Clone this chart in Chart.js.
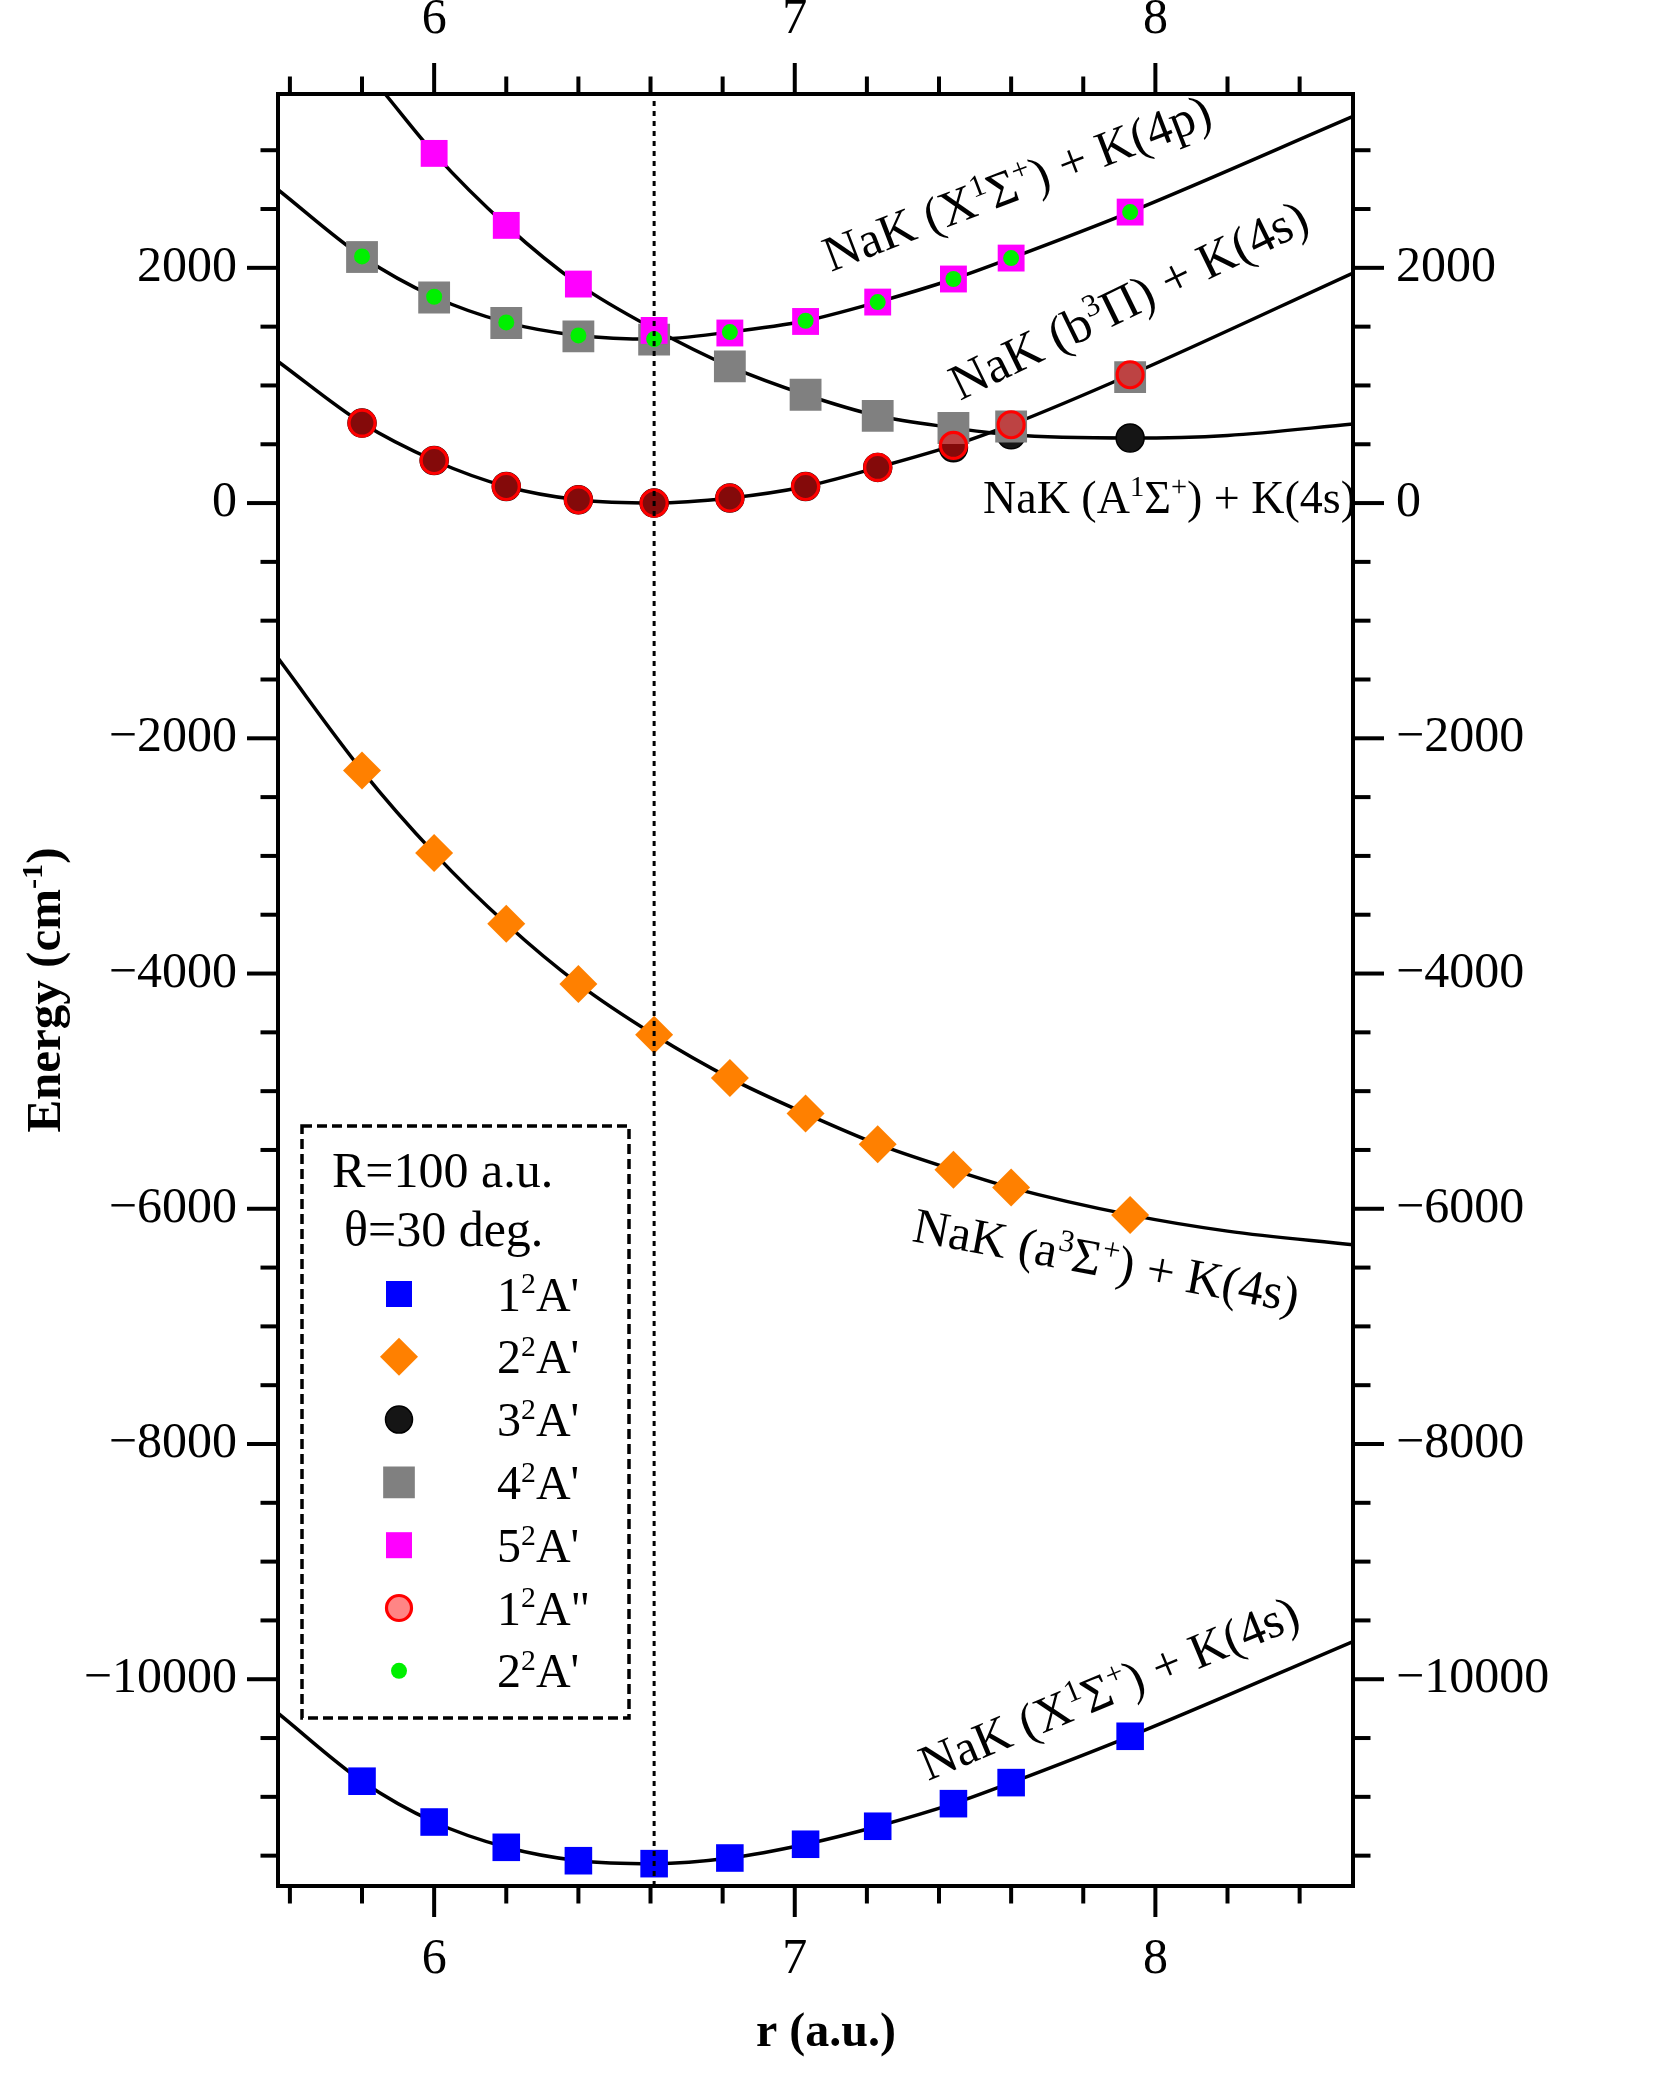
<!DOCTYPE html>
<html>
<head>
<meta charset="utf-8">
<script src="https://cdn.jsdelivr.net/npm/chart.js@4.4.1/dist/chart.umd.min.js"></script>
<style>
  html, body { margin: 0; padding: 0; background: #fff; }
  canvas { display: block; }
</style>
</head>
<body>
<canvas id="energyChart" width="1654" height="2075" style="width:1654px;height:2075px"></canvas>
<script>
// r grid of the ab initio points (a.u.)
const rPoints = [5.8, 6.0, 6.2, 6.4, 6.61, 6.82, 7.03, 7.23, 7.44, 7.6, 7.93];
const rUpper = [6.0, 6.2, 6.4, 6.61, 6.82, 7.03, 7.23, 7.44, 7.6, 7.93];

// adiabatic energies (cm-1)
const e1A1 = [-10867, -11214, -11429, -11543, -11568, -11520, -11403, -11250, -11058, -10879, -10485];
const e2A1 = [-2274, -2976, -3577, -4088, -4521, -4889, -5190, -5451, -5669, -5820, -6052];
const e3A1 = [680, 362, 141, 28, 0, 43, 141, 303, 470, 580, 553];
const e4A1 = [2092, 1748, 1531, 1417, 1389, 1162, 921, 742, 638, 651, 1071];
const e5A1 = [2973, 2361, 1862, 1468, 1446, 1544, 1709, 1905, 2083, 2474];
const e1A2 = [680, 362, 141, 28, 0, 43, 141, 303, 490, 666, 1091];
const e2A1b = [2097, 1754, 1536, 1425, 1394, 1454, 1550, 1709, 1905, 2083, 2474];

// diabatic curves
const rCurveX4p = [5.567, 5.8, 6.0, 6.2, 6.4, 6.61, 6.82, 7.03, 7.23, 7.44, 7.6, 7.93, 8.548];
const eCurveX4p = [2664, 2097, 1754, 1536, 1425, 1394, 1454, 1550, 1709, 1905, 2083, 2474, 3287];
const rCurveA4s = [5.864, 6.0, 6.2, 6.4, 6.61, 6.82, 7.03, 7.23, 7.44, 7.6, 7.93, 8.2, 8.548];
const eCurveA4s = [3478, 2973, 2361, 1862, 1480, 1162, 921, 742, 640, 580, 553, 575, 672];
const rCurveb4s = [5.567, 5.8, 6.0, 6.2, 6.4, 6.61, 6.82, 7.03, 7.23, 7.44, 7.6, 7.93, 8.548];
const eCurveb4s = [1204, 680, 362, 141, 28, 0, 43, 141, 303, 490, 666, 1091, 1956];
const rCurvea4s = [5.567, 5.8, 6.0, 6.2, 6.4, 6.61, 6.82, 7.03, 7.23, 7.44, 7.6, 7.93, 8.2, 8.548];
const eCurvea4s = [-1318, -2274, -2976, -3577, -4088, -4521, -4889, -5190, -5451, -5669, -5820, -6052, -6190, -6307];
const rCurveX4s = [5.567, 5.8, 6.0, 6.2, 6.4, 6.61, 6.82, 7.03, 7.23, 7.44, 7.6, 7.93, 8.548];
const eCurveX4s = [-10289, -10867, -11214, -11429, -11543, -11568, -11520, -11403, -11250, -11058, -10879, -10485, -9680];

const rEquilibrium = 6.61;

// axes
const rMin = 5.567, rMax = 8.548;
const eMin = -11758, eMax = 3478;
const rMajorTicks = [6, 7, 8];
const rMinorTicks = [5.6, 5.8, 6.2, 6.4, 6.6, 6.8, 7.2, 7.4, 7.6, 7.8, 8.2, 8.4];
const eMajorTicks = [2000, 0, -2000, -4000, -6000, -8000, -10000];
const eMinorTicks = [3000, 2500, 1500, 1000, 500, -500, -1000, -1500, -2500, -3000, -3500,
  -4500, -5000, -5500, -6500, -7000, -7500, -8500, -9000, -9500, -10500, -11000, -11500];

const legendNames = [['1', '2', "A'"], ['2', '2', "A'"], ['3', '2', "A'"], ['4', '2', "A'"],
  ['5', '2', "A'"], ['1', '2', 'A"'], ['2', '2', "A'"]];

const SERIF = "'Liberation Serif', 'Times New Roman', serif";

// marker styles: blue, orange, black, gray, magenta, red, green
const markers = [
  { style: 'rect', r: 19.5, bg: '#0000ff', border: '#0000ff', bw: 0 },
  { style: 'rectRot', r: 19, bg: '#ff8000', border: '#ff8000', bw: 0 },
  { style: 'circle', r: 14, bg: '#151515', border: '#000000', bw: 1.5 },
  { style: 'rect', r: 22.5, bg: '#808080', border: '#808080', bw: 0 },
  { style: 'rect', r: 19, bg: '#ff00ff', border: '#ff00ff', bw: 0 },
  { style: 'circle', r: 13, bg: 'rgba(255,0,0,0.48)', border: '#ff0000', bw: 3.2 },
  { style: 'circle', r: 8, bg: '#00f000', border: '#00f000', bw: 0 }
];
const legendMarkers = [
  { style: 'rect', r: 18.4, bg: '#0000ff', border: '#0000ff', bw: 0 },
  { style: 'rectRot', r: 19, bg: '#ff8000', border: '#ff8000', bw: 0 },
  { style: 'circle', r: 13.5, bg: '#151515', border: '#000000', bw: 1.5 },
  { style: 'rect', r: 22.4, bg: '#808080', border: '#808080', bw: 0 },
  { style: 'rect', r: 18.4, bg: '#ff00ff', border: '#ff00ff', bw: 0 },
  { style: 'circle', r: 12.5, bg: 'rgba(255,0,0,0.48)', border: '#ff0000', bw: 3.2 },
  { style: 'circle', r: 8, bg: '#00f000', border: '#00f000', bw: 0 }
];

const pts = (xs, ys) => ys.map((y, i) => ({ x: xs[i], y: y }));

function pointSet(label, xs, ys, m, order) {
  return {
    label: label, data: pts(xs, ys), showLine: false, order: order,
    pointStyle: m.style, pointRadius: m.r, pointHoverRadius: m.r,
    pointBackgroundColor: m.bg, pointBorderColor: m.border, pointBorderWidth: m.bw
  };
}
function curveSet(xs, ys) {
  return {
    data: pts(xs, ys), showLine: true, pointRadius: 0, borderColor: '#000',
    borderWidth: 3.5, cubicInterpolationMode: 'monotone', order: 20
  };
}

// rich text: parts are [text, 'sup' | '']
function drawRich(ctx, parts, x, y, size, angle, bold, center) {
  const f = (s) => (bold ? 'bold ' : '') + s + 'px ' + SERIF;
  ctx.save();
  ctx.translate(x, y);
  ctx.rotate(angle * Math.PI / 180);
  ctx.fillStyle = '#000';
  ctx.textAlign = 'left';
  ctx.textBaseline = 'alphabetic';
  let w = 0;
  for (const [t, k] of parts) { ctx.font = f(k === 'sup' ? size * 0.62 : size); w += ctx.measureText(t).width; }
  let cx = center ? -w / 2 : 0;
  for (const [t, k] of parts) {
    const s = k === 'sup' ? size * 0.62 : size;
    ctx.font = f(s);
    ctx.fillText(t, cx, k === 'sup' ? -size * 0.36 : 0);
    cx += ctx.measureText(t).width;
  }
  ctx.restore();
}

function drawMarker(ctx, m, x, y) {
  ctx.save();
  ctx.fillStyle = m.bg;
  ctx.strokeStyle = m.border;
  ctx.lineWidth = m.bw;
  Chart.helpers.drawPoint(ctx, { pointStyle: m.style, radius: m.r, rotation: 0, borderWidth: m.bw }, x, y);
  ctx.restore();
}

const sigma = (pre, post) => [[pre, ''], ['1', 'sup'], ['Σ', ''], ['+', 'sup'], [post, '']];
const annotations = [
  { parts: sigma('NaK (X', ') + K(4p)'), x: 831, y: 272, angle: -21, size: 50 },
  { parts: [['NaK (b', ''], ['3', 'sup'], ['Π) + K(4s)', '']], x: 960, y: 401, angle: -26, size: 51 },
  { parts: sigma('NaK (A', ') + K(4s)'), x: 983, y: 513, angle: 0, size: 46 },
  { parts: [['NaK (a', ''], ['3', 'sup'], ['Σ', ''], ['+', 'sup'], [') + K(4s)', '']], x: 911, y: 1241, angle: 10.5, size: 50 },
  { parts: sigma('NaK (X', ') + K(4s)'), x: 928, y: 1781, angle: -22.5, size: 50 }
];

const decorations = {
  id: 'decorations',
  afterDraw(chart) {
    const { ctx, chartArea: a, scales } = chart;
    ctx.save();
    // frame
    ctx.strokeStyle = '#000';
    ctx.lineWidth = 4;
    ctx.lineJoin = 'miter';
    ctx.strokeRect(a.left, a.top, a.right - a.left, a.bottom - a.top);
    // tick marks
    const seg = (x1, y1, x2, y2) => { ctx.beginPath(); ctx.moveTo(x1, y1); ctx.lineTo(x2, y2); ctx.stroke(); };
    const tickX = (vals, len) => vals.forEach(v => {
      const p = scales.x.getPixelForValue(v);
      seg(p, a.bottom, p, a.bottom + len); seg(p, a.top, p, a.top - len);
    });
    const tickY = (vals, len) => vals.forEach(v => {
      const p = scales.y.getPixelForValue(v);
      seg(a.left, p, a.left - len, p); seg(a.right, p, a.right + len, p);
    });
    tickX(rMinorTicks, 17.5); tickX(rMajorTicks, 31);
    tickY(eMinorTicks, 17.5); tickY(eMajorTicks, 31);

    // legend box
    ctx.setLineDash([10, 5]);
    ctx.lineWidth = 3.5;
    ctx.strokeRect(302, 1126, 327, 592);
    ctx.setLineDash([]);
    drawRich(ctx, [['R=100 a.u.', '']], 332, 1187, 50, 0, false, false);
    drawRich(ctx, [['θ=30 deg.', '']], 344, 1246, 50, 0, false, false);
    legendNames.forEach((n, i) => {
      const cy = 1294 + i * 62.8;
      drawMarker(ctx, legendMarkers[i], 399, cy);
      drawRich(ctx, [[n[0], ''], [n[1], 'sup'], [n[2], '']], 497, cy + 16.6, 48, 0, false, false);
    });

    // curve labels
    annotations.forEach(t => drawRich(ctx, t.parts, t.x, t.y, t.size, t.angle, false, false));

    // axis titles
    drawRich(ctx, [['r (a.u.)', '']], 826, 2046, 48, 0, true, true);
    drawRich(ctx, [['Energy (cm', ''], ['-1', 'sup'], [')', '']], 60, 990, 49, -90, true, true);
    ctx.restore();
  }
};

const fmt = (v) => (v < 0 ? '\u2212' + Math.abs(v) : String(v));
const tickFont = { family: SERIF, size: 50 };

function xAxis(pos, height) {
  return {
    type: 'linear', position: pos, min: rMin, max: rMax,
    grid: { display: false, drawTicks: false }, border: { display: false },
    ticks: { font: tickFont, color: '#000', padding: 44, autoSkip: false, maxRotation: 0 },
    afterBuildTicks: (s) => { s.ticks = rMajorTicks.map(v => ({ value: v })); },
    afterFit: (s) => { s.height = height; }
  };
}
function yAxis(pos, width, pad) {
  return {
    type: 'linear', position: pos, min: eMin, max: eMax,
    grid: { display: false, drawTicks: false }, border: { display: false },
    ticks: { font: tickFont, color: '#000', padding: pad, autoSkip: false, callback: fmt },
    afterBuildTicks: (s) => { s.ticks = eMajorTicks.map(v => ({ value: v })); },
    afterFit: (s) => { s.width = width; }
  };
}

const datasets = [
  { data: [{ x: rEquilibrium, y: eMin }, { x: rEquilibrium, y: eMax }], showLine: true, pointRadius: 0,
    borderColor: '#000', borderWidth: 3, borderDash: [5, 5], order: 0 },
  pointSet('2 2A\' (b)', rPoints, e2A1b, markers[6], 1),
  pointSet('1 2A"', rPoints, e1A2, markers[5], 2),
  pointSet('5 2A\'', rUpper, e5A1, markers[4], 3),
  pointSet('4 2A\'', rPoints, e4A1, markers[3], 4),
  pointSet('3 2A\'', rPoints, e3A1, markers[2], 5),
  pointSet('2 2A\'', rPoints, e2A1, markers[1], 6),
  pointSet('1 2A\'', rPoints, e1A1, markers[0], 7),
  curveSet(rCurveX4p, eCurveX4p),
  curveSet(rCurveA4s, eCurveA4s),
  curveSet(rCurveb4s, eCurveb4s),
  curveSet(rCurvea4s, eCurvea4s),
  curveSet(rCurveX4s, eCurveX4s)
];

const energyChart = new Chart(document.getElementById('energyChart').getContext('2d'), {
  type: 'scatter',
  data: { datasets: datasets },
  options: {
    responsive: false,
    devicePixelRatio: 1,
    animation: false,
    layout: { padding: 0 },
    plugins: { legend: { display: false }, tooltip: { enabled: false } },
    scales: {
      x: xAxis('bottom', 189),
      x2: xAxis('top', 94),
      y: yAxis('left', 278, 41),
      y2: yAxis('right', 301, 43)
    }
  },
  plugins: [decorations]
});
</script>
</body>
</html>
